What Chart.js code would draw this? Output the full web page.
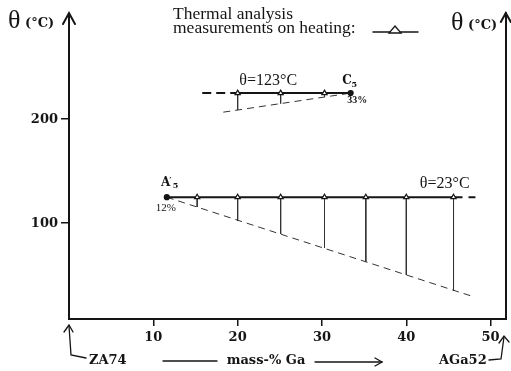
<!DOCTYPE html>
<html>
<head>
<meta charset="utf-8">
<script src="https://cdn.jsdelivr.net/npm/chart.js@4/dist/chart.umd.min.js"></script>
<style>
html, body { margin: 0; padding: 0; background: #fff; }
#wrap { width: 511px; height: 371px; }
</style>
</head>
<body>
<div id="wrap"><canvas id="chart"></canvas></div>
<script>
// x = mass-% Ga, y = theta as read on the drawn axis
var xTicks = [10, 20, 30, 40, 50];
var yTicks = [100, 200];

// upper plateau (theta=123°C), ends at C5 (33%)
var upperX = [20, 25.1, 30.3, 33.4];
var upperY = [225, 225, 225, 225];
var upperDropY = [208.7, 215, 221.5];
var upperLeadX = [15.8, 20];
var upperLeadY = [225, 225];
var upperBaseX = [18.3, 33.4];
var upperBaseY = [206.7, 225];

// lower plateau (theta=23°C), starts at A'5 (12%)
var lowerX = [11.6, 15.2, 20, 25.1, 30.3, 35.2, 40, 45.6];
var lowerY = [125, 125, 125, 125, 125, 125, 125, 125];
var lowerDropY = [115.6, 102.1, 89.7, 76.2, 63, 50.3, 34.9];
var lowerTailX = [45.6, 48.2];
var lowerTailY = [125, 125];
var lowerBaseX = [11.6, 47.7];
var lowerBaseY = [125, 30.1];

var INK = '#151515';
var SERIF = '"Liberation Serif", "Times New Roman", serif';
var BOLD = 'bold 13px "DejaVu Serif", serif';

function pts(xs, ys) {
    var out = [];
    for (var i = 0; i < xs.length; i++) {
        out.push({ x: xs[i], y: ys[i] });
    }
    return out;
}

// vertical drop lines, broken apart with nulls
function drops(xs, tops, bottoms) {
    var out = [];
    for (var i = 0; i < bottoms.length; i++) {
        out.push({ x: xs[i], y: tops[i] });
        out.push({ x: xs[i], y: bottoms[i] });
        out.push({ x: xs[i], y: null });
    }
    return out;
}

function markerStyles(n, firstDot, lastDot) {
    var styles = [], fills = [], radii = [];
    for (var i = 0; i < n; i++) {
        var dot = (firstDot && i === 0) || (lastDot && i === n - 1);
        styles.push(dot ? 'circle' : 'triangle');
        fills.push(dot ? INK : '#fff');
        radii.push(dot ? 2.5 : 3);
    }
    return { pointStyle: styles, pointBackgroundColor: fills, pointRadius: radii };
}

function lineSet(data, extra) {
    var ds = {
        data: data,
        showLine: true,
        borderColor: INK,
        borderWidth: 1,
        pointRadius: 0,
        spanGaps: false,
        fill: false
    };
    for (var k in extra) ds[k] = extra[k];
    return ds;
}

var upperMarks = markerStyles(upperX.length, false, true);
var lowerMarks = markerStyles(lowerX.length, true, false);

var datasets = [
    lineSet(pts(upperX, upperY), {
        borderWidth: 2,
        pointStyle: upperMarks.pointStyle,
        pointBackgroundColor: upperMarks.pointBackgroundColor,
        pointRadius: upperMarks.pointRadius,
        pointBorderColor: INK,
        pointBorderWidth: 1.2
    }),
    lineSet(pts(lowerX, lowerY), {
        borderWidth: 2,
        pointStyle: lowerMarks.pointStyle,
        pointBackgroundColor: lowerMarks.pointBackgroundColor,
        pointRadius: lowerMarks.pointRadius,
        pointBorderColor: INK,
        pointBorderWidth: 1.2
    }),
    lineSet(pts(upperLeadX, upperLeadY), { borderWidth: 2, borderDash: [9, 5] }),
    lineSet(pts(lowerTailX, lowerTailY), { borderWidth: 2, borderDash: [9, 6] }),
    lineSet(drops(upperX, upperY, upperDropY), { borderColor: '#333' }),
    lineSet(drops(lowerX.slice(1), lowerY.slice(1), lowerDropY), { borderColor: '#333' }),
    lineSet(pts(upperBaseX, upperBaseY), { borderDash: [7, 5], borderColor: '#333' }),
    lineSet(pts(lowerBaseX, lowerBaseY), { borderDash: [7, 5], borderColor: '#333' })
];

function text(ctx, str, x, y, font, align) {
    ctx.font = font;
    ctx.textAlign = align || 'left';
    ctx.textBaseline = 'alphabetic';
    ctx.fillText(str, x, y);
}

function line(ctx, coords, width) {
    ctx.beginPath();
    ctx.lineWidth = width || 1.3;
    ctx.moveTo(coords[0], coords[1]);
    for (var i = 2; i < coords.length; i += 2) ctx.lineTo(coords[i], coords[i + 1]);
    ctx.stroke();
}

var decorations = {
    id: 'decorations',
    afterDraw: function (chart) {
        var ctx = chart.ctx;
        var xs = chart.scales.x, ys = chart.scales.y;
        var area = chart.chartArea;
        function px(v) { return xs.getPixelForValue(v); }
        function py(v) { return ys.getPixelForValue(v); }
        ctx.save();
        ctx.fillStyle = INK;
        ctx.strokeStyle = INK;
        ctx.lineCap = 'round';

        // axis arrow heads
        line(ctx, [area.left - 6, area.top + 10, area.left, area.top - 1, area.left + 6, area.top + 10], 2);
        line(ctx, [area.right, area.top, area.right, area.top - 1], 2);
        line(ctx, [area.right - 5, area.top + 8, area.right, area.top - 1, area.right + 5, area.top + 8], 2);

        // axis titles
        text(ctx, '\u03b8', 8, 28, '26px ' + SERIF);
        text(ctx, '(\u00b0C)', 25, 27, BOLD);
        text(ctx, '\u03b8', 451, 30, '26px ' + SERIF);
        text(ctx, '(\u00b0C)', 468, 29, BOLD);

        // legend
        text(ctx, 'Thermal analysis', 173, 19, '17.5px ' + SERIF);
        text(ctx, 'measurements on heating:', 173, 33, '17.5px ' + SERIF);
        line(ctx, [373, 32, 418, 32], 1.5);
        ctx.beginPath();
        ctx.moveTo(395, 26);
        ctx.lineTo(401, 33);
        ctx.lineTo(389, 33);
        ctx.closePath();
        ctx.fillStyle = '#fff';
        ctx.fill();
        ctx.lineWidth = 1.3;
        ctx.stroke();
        ctx.fillStyle = INK;

        // plateau labels
        text(ctx, '\u03b8=123\u00b0C', px(20.2), py(232.5), '16px ' + SERIF);
        text(ctx, 'C', px(32.4), py(233.5), 'bold 12px "DejaVu Serif", serif');
        text(ctx, '5', px(33.5), py(231), 'bold 8px "DejaVu Serif", serif');
        text(ctx, '33%', px(33.0), py(215.5), 'bold 10px ' + SERIF);
        text(ctx, 'A', px(10.9), py(135.5), 'bold 12px "DejaVu Serif", serif');
        text(ctx, '\u2032', px(11.9), py(137.5), 'bold 9px "DejaVu Serif", serif');
        text(ctx, '5', px(12.3), py(133.5), 'bold 8px "DejaVu Serif", serif');
        text(ctx, '12%', px(10.3), py(111.5), '11px ' + SERIF);
        text(ctx, '\u03b8=23\u00b0C', px(41.6), py(133.5), '16px ' + SERIF);

        // bottom captions
        text(ctx, 'ZA74', 89, 364, BOLD);
        line(ctx, [69, 326, 71, 355, 86, 358]);
        line(ctx, [64, 332, 69, 325, 73, 332]);
        text(ctx, 'mass-% Ga', 266, 364, BOLD, 'center');
        line(ctx, [163, 361, 217, 361]);
        line(ctx, [315, 362, 382, 362]);
        line(ctx, [375, 358, 382, 362, 375, 366]);
        text(ctx, 'AGa52', 439, 364, BOLD);
        line(ctx, [489, 360, 501, 359, 504, 337]);
        line(ctx, [499, 343, 504, 336, 509, 342]);
        ctx.restore();
    }
};

function fixedTicks(list) {
    return function (scale) {
        scale.ticks = list.map(function (v) { return { value: v }; });
    };
}

var config = {
    type: 'scatter',
    data: { datasets: datasets },
    options: {
        responsive: true,
        maintainAspectRatio: false,
        animation: false,
        events: [],
        layout: { padding: { top: 14, left: 0, right: 0, bottom: 0 } },
        plugins: { legend: { display: false }, tooltip: { enabled: false } },
        scales: {
            x: {
                type: 'linear',
                position: 'bottom',
                min: 0,
                max: 51.8,
                afterBuildTicks: fixedTicks(xTicks),
                afterFit: function (s) { s.height = 52; },
                grid: { drawOnChartArea: false, drawTicks: true, tickLength: 7, color: INK, lineWidth: 1.5 },
                border: { color: INK, width: 2 },
                ticks: { color: INK, font: { family: '"DejaVu Serif", serif', size: 13, weight: 'bold' }, padding: 4, maxRotation: 0 }
            },
            y: {
                type: 'linear',
                position: 'left',
                min: 8,
                max: 301,
                afterBuildTicks: fixedTicks(yTicks),
                afterFit: function (s) { s.width = 69; },
                grid: { drawOnChartArea: false, drawTicks: true, tickLength: 8, color: INK, lineWidth: 1.5 },
                border: { color: INK, width: 2 },
                ticks: { color: INK, font: { family: '"DejaVu Serif", serif', size: 13, weight: 'bold' }, padding: 3 }
            },
            y2: {
                type: 'linear',
                position: 'right',
                min: 8,
                max: 301,
                afterFit: function (s) { s.width = 4; },
                grid: { drawOnChartArea: false, drawTicks: false },
                border: { color: INK, width: 2 },
                ticks: { display: false }
            }
        }
    },
    plugins: [decorations]
};

var ctx = document.getElementById('chart').getContext('2d');
window.myChart = new Chart(ctx, config);
</script>
</body>
</html>
